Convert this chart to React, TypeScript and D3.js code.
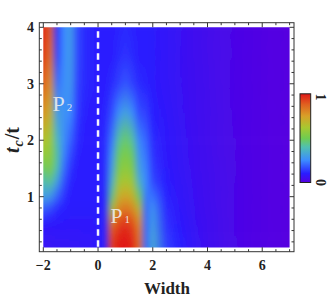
import React, { useEffect, useRef } from 'react';
import * as d3 from 'd3';

// grid of the density plot (Width on x, tc/t on y)
const widthGrid = [-2, -1.75, -1.5, -1.25, -1, -0.75, -0.5, -0.25, 0, 0.25, 0.5, 0.75, 1, 1.25, 1.5, 1.75, 2, 2.5, 3, 3.5, 4, 4.5, 5, 5.5, 6, 6.5, 7];
const tcGrid = [4, 3.5, 3, 2.5, 2, 1.75, 1.5, 1.25, 1, 0.75, 0.5, 0.3, 0.1];

// normalised intensity, one row per tc/t value (top to bottom)
const row400 = [0.98, 0.88, 0.13, 0.25, 0.29, 0.16, 0.12, 0.11, 0.1, 0.1, 0.1, 0.11, 0.12, 0.11, 0.1, 0.1, 0.095, 0.08, 0.065, 0.052, 0.04, 0.031, 0.023, 0.016, 0.01, 0.005, 0];
const row350 = [0.95, 0.84, 0.15, 0.25, 0.29, 0.16, 0.12, 0.11, 0.1, 0.1, 0.1, 0.12, 0.13, 0.12, 0.1, 0.1, 0.095, 0.08, 0.065, 0.052, 0.04, 0.031, 0.023, 0.016, 0.01, 0.005, 0];
const row300 = [0.88, 0.78, 0.21, 0.26, 0.28, 0.15, 0.12, 0.11, 0.1, 0.1, 0.12, 0.15, 0.18, 0.15, 0.12, 0.11, 0.095, 0.08, 0.066, 0.053, 0.041, 0.031, 0.023, 0.016, 0.01, 0.005, 0];
const row250 = [0.78, 0.7, 0.3, 0.27, 0.25, 0.14, 0.11, 0.1, 0.1, 0.11, 0.16, 0.25, 0.31, 0.25, 0.16, 0.15, 0.1, 0.085, 0.068, 0.054, 0.042, 0.032, 0.023, 0.016, 0.01, 0.005, 0];
const row200 = [0.64, 0.6, 0.38, 0.26, 0.19, 0.12, 0.1, 0.1, 0.1, 0.12, 0.22, 0.42, 0.48, 0.42, 0.24, 0.2, 0.12, 0.09, 0.071, 0.056, 0.043, 0.033, 0.024, 0.016, 0.01, 0.005, 0];
const row175 = [0.57, 0.57, 0.42, 0.24, 0.16, 0.11, 0.1, 0.1, 0.1, 0.12, 0.26, 0.48, 0.53, 0.48, 0.27, 0.22, 0.13, 0.09, 0.073, 0.058, 0.044, 0.033, 0.024, 0.016, 0.01, 0.005, 0];
const row150 = [0.48, 0.53, 0.4, 0.21, 0.13, 0.1, 0.1, 0.1, 0.1, 0.12, 0.3, 0.53, 0.57, 0.53, 0.3, 0.24, 0.14, 0.095, 0.075, 0.059, 0.045, 0.034, 0.024, 0.016, 0.01, 0.005, 0];
const row125 = [0.38, 0.42, 0.3, 0.17, 0.11, 0.1, 0.1, 0.1, 0.1, 0.12, 0.36, 0.6, 0.64, 0.6, 0.36, 0.25, 0.16, 0.1, 0.078, 0.061, 0.046, 0.034, 0.025, 0.017, 0.01, 0.005, 0];
const row100 = [0.3, 0.28, 0.19, 0.13, 0.1, 0.1, 0.1, 0.1, 0.1, 0.11, 0.45, 0.7, 0.74, 0.7, 0.5, 0.22, 0.22, 0.11, 0.082, 0.063, 0.047, 0.035, 0.025, 0.017, 0.01, 0.005, 0];
const row075 = [0.17, 0.14, 0.11, 0.1, 0.095, 0.095, 0.095, 0.095, 0.095, 0.11, 0.65, 0.82, 0.86, 0.82, 0.7, 0.2, 0.28, 0.12, 0.088, 0.066, 0.049, 0.036, 0.026, 0.017, 0.01, 0.005, 0];
const row050 = [0.09, 0.09, 0.09, 0.09, 0.09, 0.09, 0.09, 0.09, 0.095, 0.11, 0.85, 0.93, 0.96, 0.92, 0.8, 0.2, 0.3, 0.13, 0.094, 0.069, 0.051, 0.037, 0.026, 0.017, 0.01, 0.005, 0];
const row030 = [0.075, 0.075, 0.08, 0.08, 0.08, 0.08, 0.085, 0.085, 0.09, 0.11, 0.92, 0.98, 1, 0.96, 0.84, 0.2, 0.32, 0.14, 0.1, 0.072, 0.052, 0.037, 0.026, 0.017, 0.01, 0.005, 0];
const row010 = [0.065, 0.065, 0.07, 0.07, 0.075, 0.075, 0.08, 0.085, 0.09, 0.11, 0.94, 1, 1, 0.98, 0.85, 0.2, 0.33, 0.15, 0.105, 0.074, 0.053, 0.038, 0.026, 0.017, 0.01, 0.005, 0];
const intensity = [row400, row350, row300, row250, row200, row175, row150, row125, row100, row075, row050, row030, row010];

// colour function stops
const colorStops = [0, 0.1, 0.25, 0.4, 0.5, 0.62, 0.75, 0.88, 1];
const colorValues = ['#5500e0', '#2a1cff', '#3c8cff', '#50c0b0', '#70cc50', '#a8c830', '#d8a028', '#e06020', '#e01818'];

const xTicks = [-2, 0, 2, 4, 6];
const yTicks = [1, 2, 3, 4];

const W = 333;
const H = 302;

const App = () => {
    const svgRef = useRef(null);

    useEffect(() => {
        const svg = d3.select(svgRef.current);
        svg.selectAll('*').remove();

        const font = "'Liberation Serif', 'Times New Roman', serif";
        const x = d3.scaleLinear().domain([-2, 7]).range([43.3, 289.6]);
        const y = d3.scaleLinear().domain([0.1, 4]).range([247.5, 27.3]);
        const color = d3.scaleLinear<string>().domain(colorStops).range(colorValues).interpolate(d3.interpolateRgb);
        const offset = d3.scaleLinear().domain([-2, 7]).range([0, 1]);

        const frame = { x0: 39.3, x1: 294, y0: 22.7, y1: 251.7 };

        const defs = svg.append('defs');
        defs.append('clipPath').attr('id', 'img-clip')
            .append('rect')
            .attr('x', x(-2)).attr('y', y(4))
            .attr('width', x(7) - x(-2)).attr('height', y(0.1) - y(4));
        defs.append('filter').attr('id', 'soften')
            .attr('filterUnits', 'userSpaceOnUse')
            .attr('x', 0).attr('y', 0).attr('width', W).attr('height', H)
            .append('feGaussianBlur').attr('stdDeviation', '2.6 4');

        // one horizontal gradient per tc/t row
        intensity.forEach((row, j) => {
            const g = defs.append('linearGradient').attr('id', `row-${j}`)
                .attr('gradientUnits', 'userSpaceOnUse')
                .attr('x1', x(-2)).attr('x2', x(7)).attr('y1', 0).attr('y2', 0);
            row.forEach((val, i) => g.append('stop')
                .attr('offset', offset(widthGrid[i]))
                .attr('stop-color', color(val)));
        });

        // vertical fade used to blend neighbouring rows
        const fadeGrad = defs.append('linearGradient').attr('id', 'fade-grad')
            .attr('x1', 0).attr('x2', 0).attr('y1', 0).attr('y2', 1);
        fadeGrad.append('stop').attr('offset', 0).attr('stop-color', '#fff').attr('stop-opacity', 0);
        fadeGrad.append('stop').attr('offset', 1).attr('stop-color', '#fff').attr('stop-opacity', 1);
        defs.append('mask').attr('id', 'fade')
            .attr('maskContentUnits', 'objectBoundingBox')
            .append('rect').attr('x', 0).attr('y', 0).attr('width', 1).attr('height', 1)
            .attr('fill', 'url(#fade-grad)');

        // --- DENSITY FIELD ---
        const pad = 14;
        const left = x(-2) - pad;
        const span = x(7) - x(-2) + 2 * pad;
        const field = svg.append('g').attr('clip-path', 'url(#img-clip)')
            .append('g').attr('filter', 'url(#soften)');
        const last = tcGrid.length - 1;
        // edge rows extended outside the frame so the blur does not fade at the border
        field.append('rect').attr('x', left).attr('width', span)
            .attr('y', y(tcGrid[0]) - pad).attr('height', pad + 0.6).attr('fill', 'url(#row-0)');
        field.append('rect').attr('x', left).attr('width', span)
            .attr('y', y(tcGrid[last]) - 0.6).attr('height', pad + 0.6).attr('fill', `url(#row-${last})`);
        d3.range(last).forEach(j => {
            const top = y(tcGrid[j]);
            const bottom = y(tcGrid[j + 1]);
            field.append('rect')
                .attr('x', left).attr('width', span)
                .attr('y', top).attr('height', bottom - top + 0.6)
                .attr('fill', `url(#row-${j})`);
            field.append('rect')
                .attr('x', left).attr('width', span)
                .attr('y', top).attr('height', bottom - top)
                .attr('fill', `url(#row-${j + 1})`)
                .attr('mask', 'url(#fade)');
        });

        // dashed marker at Width = 0
        svg.append('line')
            .attr('x1', x(0)).attr('x2', x(0))
            .attr('y1', y(4)).attr('y2', y(0.1))
            .attr('stroke', '#ffffff').attr('stroke-width', 2.5)
            .attr('stroke-dasharray', '6.5,4.5').attr('stroke-dashoffset', 7)
            .attr('opacity', 0.95);

        // peak labels
        const peak = (px, py, sub) => {
            const t = svg.append('text').attr('x', px).attr('y', py)
                .attr('font-family', font).attr('fill', '#eeeeee').attr('fill-opacity', 0.9);
            t.append('tspan').attr('font-size', 22).text('P');
            t.append('tspan').attr('font-size', 11).attr('dx', 2).text(sub);
        };
        peak(x(-1.66), y(2.52), '2');
        peak(x(0.45), y(0.54), '1');

        // --- FRAME ---
        svg.append('rect')
            .attr('x', frame.x0).attr('y', frame.y0)
            .attr('width', frame.x1 - frame.x0).attr('height', frame.y1 - frame.y0)
            .attr('fill', 'none').attr('stroke', '#333').attr('stroke-width', 1);

        const ticks = svg.append('g').attr('stroke', '#333').attr('stroke-width', 1);
        d3.range(-2, 7.01, 0.5).forEach(v => {
            const major = Math.abs(v % 2) < 1e-6;
            const len = major ? 4.5 : 2.5;
            ticks.append('line').attr('x1', x(v)).attr('x2', x(v)).attr('y1', frame.y1).attr('y2', frame.y1 - len);
            ticks.append('line').attr('x1', x(v)).attr('x2', x(v)).attr('y1', frame.y0).attr('y2', frame.y0 + len);
        });
        d3.range(0.2, 4.01, 0.2).forEach(v => {
            const major = Math.abs(v - Math.round(v)) < 1e-6;
            const len = major ? 4.5 : 2.5;
            ticks.append('line').attr('y1', y(v)).attr('y2', y(v)).attr('x1', frame.x0).attr('x2', frame.x0 + len);
            ticks.append('line').attr('y1', y(v)).attr('y2', y(v)).attr('x1', frame.x1).attr('x2', frame.x1 - len);
        });

        // tick labels
        xTicks.forEach(v => {
            svg.append('text').attr('x', x(v)).attr('y', 270)
                .attr('text-anchor', 'middle').attr('font-family', font).attr('font-size', 14)
                .attr('font-weight', 'bold').attr('fill', '#222').text(v < 0 ? `\u2212${-v}` : `${v}`);
        });
        yTicks.forEach(v => {
            svg.append('text').attr('x', 34).attr('y', y(v) + 5)
                .attr('text-anchor', 'end').attr('font-family', font).attr('font-size', 14)
                .attr('font-weight', 'bold').attr('fill', '#222').text(v);
        });

        // axis titles
        svg.append('text').attr('x', 167).attr('y', 294)
            .attr('text-anchor', 'middle').attr('font-family', font).attr('font-size', 17)
            .attr('font-weight', 'bold').attr('fill', '#222').text('Width');

        const yTitle = svg.append('text')
            .attr('transform', 'translate(19,140) rotate(-90)')
            .attr('text-anchor', 'middle').attr('font-family', font).attr('font-weight', 'bold')
            .attr('fill', '#222').attr('font-size', 20);
        yTitle.append('tspan').attr('font-style', 'italic').text('t');
        yTitle.append('tspan').attr('font-style', 'italic').attr('font-size', 14).attr('dy', 4).attr('dx', 1).text('c');
        yTitle.append('tspan').attr('dy', -4).attr('dx', 1).text('/t');

        // --- COLOUR BAR ---
        const bar = { x: 300, y: 93.8, w: 10.7, h: 88.7 };
        const grad = defs.append('linearGradient').attr('id', 'bar-grad')
            .attr('x1', 0).attr('x2', 0).attr('y1', 1).attr('y2', 0);
        colorStops.forEach((s, k) => grad.append('stop').attr('offset', s).attr('stop-color', colorValues[k]));
        svg.append('rect')
            .attr('x', bar.x).attr('y', bar.y).attr('width', bar.w).attr('height', bar.h)
            .attr('fill', 'url(#bar-grad)').attr('stroke', '#222').attr('stroke-width', 1);
        [['1', 97], ['0', 182.5]].forEach(([label, cy]) => {
            svg.append('text')
                .attr('transform', `translate(320,${cy}) rotate(90)`)
                .attr('text-anchor', 'middle').attr('dominant-baseline', 'central')
                .attr('font-family', font).attr('font-size', 14).attr('font-weight', 'bold')
                .attr('fill', '#222').text(label);
        });
    }, []);

    return (
        <div style={{ position: 'absolute', left: 0, top: 0, width: W, height: H, background: '#fff' }}>
            <svg ref={svgRef} width={W} height={H} style={{ display: 'block' }} />
        </div>
    );
};

export default App;
